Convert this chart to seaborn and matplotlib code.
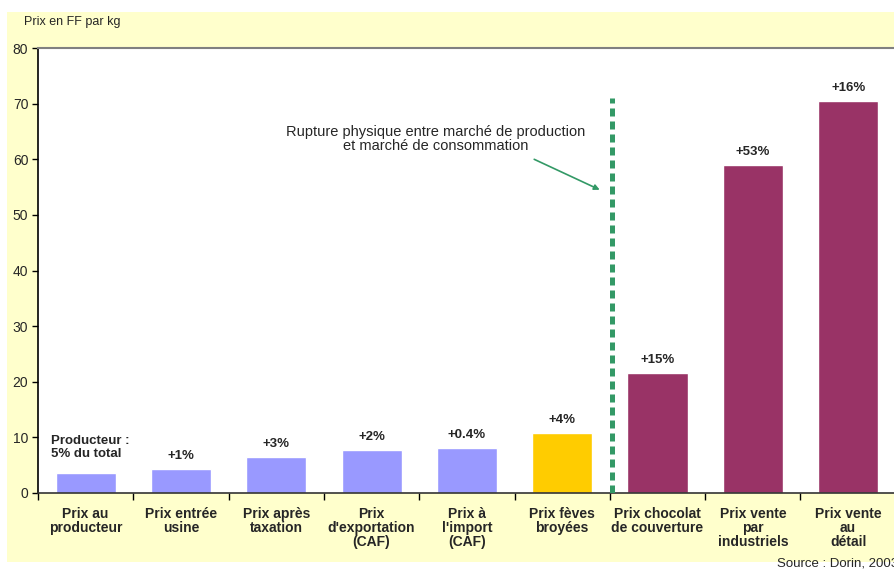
import matplotlib
matplotlib.use("Agg")
import matplotlib.pyplot as plt
import seaborn as sns
import pandas as pd
from matplotlib.patches import Rectangle

categories = ["Prix au\nproducteur", "Prix entrée\nusine", "Prix après\ntaxation",
              "Prix\nd'exportation\n(CAF)", "Prix à\nl'import\n(CAF)", "Prix fèves\nbroyées",
              "Prix chocolat\nde couverture", "Prix vente\npar\nindustriels", "Prix vente\nau\ndétail"]
values = [3.6, 4.3, 6.5, 7.7, 8.1, 10.7, 21.6, 59.0, 70.5]
pct_labels = ["", "+1%", "+3%", "+2%", "+0.4%", "+4%", "+15%", "+53%", "+16%"]
colors = ["#9999FF"] * 5 + ["#FFCC00"] + ["#993366"] * 3

sns.set_theme(style="white")
plt.rcParams['font.family'] = ['Liberation Sans', 'DejaVu Sans']

df = pd.DataFrame({"cat": categories, "val": values})

fig = plt.figure(figsize=(8.94, 5.72), dpi=100)
fig.patch.set_facecolor("white")
fig.patches.append(Rectangle((7/894, 1 - 562/572), 1 - 7/894, (562 - 12)/572,
                             transform=fig.transFigure, facecolor="#FFFFCC",
                             edgecolor="none", zorder=-5))
ax = fig.add_axes([38/894, 1 - 493/572, (894 - 38)/894 + 0.002, (493 - 48)/572])
ax.set_zorder(2)
ax.set_facecolor("white")

sns.barplot(data=df, x="cat", y="val", hue="cat", palette=colors, dodge=False,
            width=0.63, saturation=1, legend=False, ax=ax)

ax.set_xlim(-0.5, len(categories) - 0.5)
ax.set_ylim(0, 80)
ax.set_yticks(range(0, 81, 10))
ax.set_xlabel("")
ax.set_ylabel("")
ax.tick_params(axis="y", labelsize=10, length=4, width=1, color="black", direction="out", left=True, pad=3)
ax.set_xticks(range(len(categories)))
ax.set_xticklabels(categories, fontsize=10, fontweight="bold", linespacing=1.0, va="top")
ax.tick_params(axis="x", length=0, pad=10)
ax.set_xticks([i + 0.5 for i in range(-1, len(categories))], minor=True)
ax.tick_params(axis="x", which="minor", length=5, width=1, color="black", direction="out", bottom=True)

for s in ["left", "bottom", "top", "right"]:
    ax.spines[s].set_visible(True)
ax.spines["left"].set_color("black")
ax.spines["left"].set_linewidth(1.2)
ax.spines["bottom"].set_color("#333333")
ax.spines["bottom"].set_linewidth(1.2)
ax.spines["top"].set_color("#808080")
ax.spines["top"].set_linewidth(1.5)
ax.spines["right"].set_visible(False)

for i, (v, t) in enumerate(zip(values, pct_labels)):
    if t:
        ax.text(i, v + 1.3, t, ha="center", va="bottom", fontsize=9.5, fontweight="bold")
ax.text(-0.36, 6.0, "Producteur :\n5% du total", ha="left", va="bottom",
        fontsize=9.5, fontweight="bold", linespacing=1.05)

ax.plot([5.525, 5.525], [0, 71], color="#339966", lw=3.6, ls=(0, (1.6, 1.0)), zorder=3)
ax.text(3.67, 63.6, "Rupture physique entre marché de production\net marché de consommation",
        ha="center", va="center", fontsize=10.5, linespacing=1.0)
ax.annotate("", xy=(5.42, 54.3), xytext=(4.68, 60.2),
            arrowprops=dict(arrowstyle="-|>", color="#339966", lw=1.2, mutation_scale=8))

fig.text(24/894, 1 - 22/572, "Prix en FF par kg", ha="left", va="center", fontsize=9)
fig.text(777/894, 1 - 563/572, "Source : Dorin, 2003", ha="left", va="center", fontsize=9.5)

fig.savefig("out.png", dpi=100, facecolor=fig.get_facecolor())
